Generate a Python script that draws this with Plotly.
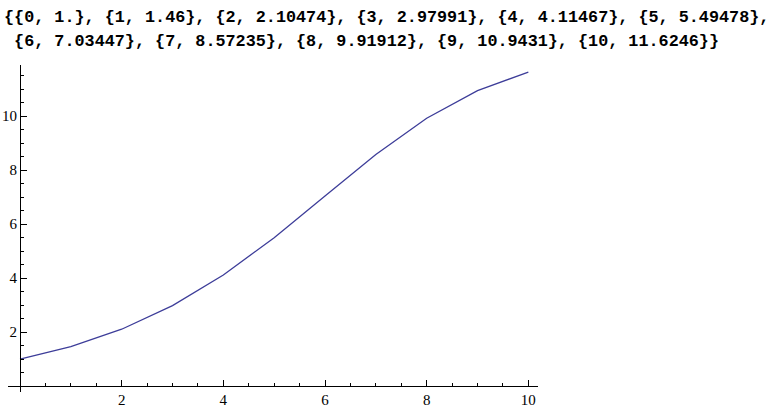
import plotly.graph_objects as go

x_vals = [0, 1, 2, 3, 4, 5, 6, 7, 8, 9, 10]
y_vals = [1.0, 1.46, 2.10474, 2.97991, 4.11467, 5.49478, 7.03447, 8.57235, 9.91912, 10.9431, 11.6246]
tick_vals = [2, 4, 6, 8, 10]
tick_text = ["2", "4", "6", "8", "10"]

W, H = 776, 407
L, R, T, B = 8, 238, 65, 15
pw = W - L - R
ph = H - T - B

def mfmt(v):
    s = f"{v:.6g}"
    if "." not in s:
        s += "."
    return s

pairs = ["{" + f"{xv}, {mfmt(yv)}" + "}" for xv, yv in zip(x_vals, y_vals)]
line1 = "{" + ", ".join(pairs[:6]) + ","
line2 = "&nbsp;" + ", ".join(pairs[6:]) + "}"

fig = go.Figure()
fig.add_trace(go.Scatter(x=x_vals, y=y_vals, mode="lines",
                         line=dict(color="#3D3D99", width=1.3),
                         hoverinfo="skip", showlegend=False))

xr = [-0.236, 10.19]
yr = [-0.22, 11.89]
x_pos = (0 - yr[0]) / (yr[1] - yr[0])
y_pos = (0 - xr[0]) / (xr[1] - xr[0])

axis_common = dict(
    showgrid=False, zeroline=False, showline=True, linecolor="black", linewidth=1,
    ticks="inside", ticklen=6, tickwidth=1, tickcolor="black",
    tickmode="array", tickvals=tick_vals, ticktext=tick_text,
    tickfont=dict(family="Liberation Serif", size=15, color="black"),
    minor=dict(tickmode="linear", tick0=0, dtick=0.5, ticks="inside", ticklen=3.5,
               tickwidth=1, tickcolor="black", showgrid=False),
    anchor="free", automargin=False,
)

mono = dict(family="Liberation Mono", size=16.8, color="black", weight="bold")

fig.update_layout(
    width=W, height=H,
    margin=dict(l=L, r=R, t=T, b=B, pad=0, autoexpand=False),
    paper_bgcolor="white", plot_bgcolor="white",
    xaxis=dict(range=xr, position=x_pos, **axis_common),
    yaxis=dict(range=yr, position=y_pos, **axis_common),
    annotations=[
        dict(text=line1, xref="paper", yref="paper",
             x=(3 - L) / pw, y=(H - B - 17) / ph,
             xanchor="left", yanchor="middle", showarrow=False, borderpad=0,
             font=mono),
        dict(text=line2, xref="paper", yref="paper",
             x=(3 - L) / pw, y=(H - B - 41) / ph,
             xanchor="left", yanchor="middle", showarrow=False, borderpad=0,
             font=mono),
    ],
)

fig.write_html("out.html", config={"displayModeBar": False},
               post_script="document.body.style.margin='0';document.body.style.overflow='hidden';")
